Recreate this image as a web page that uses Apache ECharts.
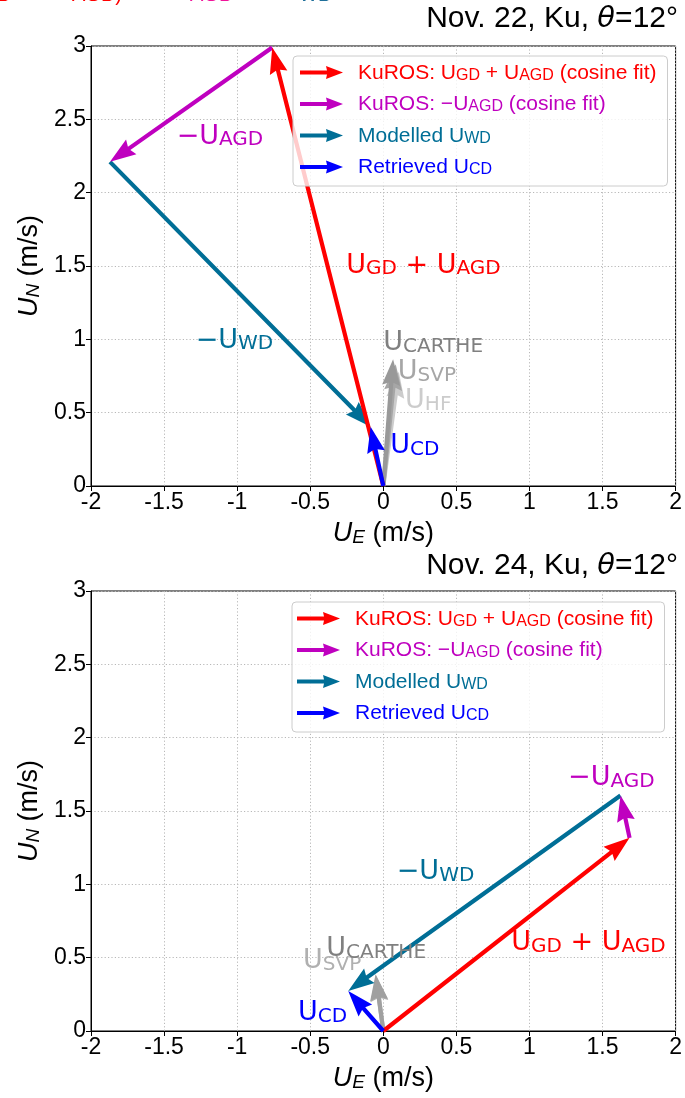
<!DOCTYPE html>
<html><head><meta charset="utf-8">
<script src="https://cdn.jsdelivr.net/npm/echarts@6/dist/echarts.min.js"></script>
<style>html,body{margin:0;padding:0;background:#fff}#c{width:685px;height:1098px}</style>
</head><body><div id="c"></div>
<script>
// ---------------- data (vectors [x0, y0, x1, y1] in m/s) ----------------
const xTickValues = [-2, -1.5, -1, -0.5, 0, 0.5, 1, 1.5, 2];
const yTickValues = [0, 0.5, 1, 1.5, 2, 2.5, 3];

// Nov. 22
const nov22_GDplusAGD = [0, 0, -0.76, 2.99];
const nov22_minusAGD  = [-0.76, 2.99, -1.87, 2.21];
const nov22_minusWD   = [-1.87, 2.21, -0.087, 0.404];
const nov22_CD        = [0, 0, -0.087, 0.404];
const nov22_CARTHE    = [0, 0, 0.067, 0.864];
const nov22_SVP       = [0, 0, 0.085, 0.83];
const nov22_HF        = [0, 0, 0.106, 0.779];

// Nov. 24
const nov24_GDplusAGD = [0, 0, 1.685, 1.317];
const nov24_minusAGD  = [1.685, 1.317, 1.623, 1.606];
const nov24_minusWD   = [1.623, 1.606, -0.240, 0.273];
const nov24_CD        = [0, 0, -0.240, 0.273];
const nov24_CARTHE    = [0, 0, -0.053, 0.387];
const nov24_SVP       = [0, 0, -0.050, 0.380];

const titles = ['Nov. 22', 'Nov. 24'];
const legendNames = ['KuROS: U_GD + U_AGD (cosine fit)', 'KuROS: -U_AGD (cosine fit)', 'Modelled U_WD', 'Retrieved U_CD'];

// ---------------- styles ----------------
const C = { r: '#ff0000', m: '#bf00bf', t: '#006e96', b: '#0000ff', g1: '#808080', g2: '#a6a6a6', g3: '#cccccc', g2b: '#b0b0b0' };
const SANS = 'Liberation Sans, Arial, sans-serif';
const DJ = 'DejaVu Sans, sans-serif';

// layout of annotation anchors (data coordinates of the label's left/bottom)
const annot22 = [
  { x: -1.414, y: 2.29, c: 'm', t: ['−U', 'AGD'] },
  { x: -0.253, y: 1.41, c: 'r', t: ['U', 'GD', ' + U', 'AGD'] },
  { x: -1.284, y: 0.90, c: 't', t: ['−U', 'WD'] },
  { x: 0.000, y: 0.88, c: 'g1', t: ['U', 'CARTHE'] },
  { x: 0.099, y: 0.685, c: 'g2', t: ['U', 'SVP'] },
  { x: 0.149, y: 0.487, c: 'g3', t: ['U', 'HF'] },
  { x: 0.048, y: 0.18, c: 'b', t: ['U', 'CD'] }
];
const annot24 = [
  { x: 1.264, y: 1.633, c: 'm', t: ['−U', 'AGD'] },
  { x: 0.092, y: 0.99, c: 't', t: ['−U', 'WD'] },
  { x: 0.876, y: 0.506, c: 'r', t: ['U', 'GD', ' + U', 'AGD'] },
  { x: -0.549, y: 0.383, c: 'g2b', t: ['U', 'SVP'] },
  { x: -0.39, y: 0.465, c: 'g1', t: ['U', 'CARTHE'] },
  { x: -0.583, y: 0.031, c: 'b', t: ['U', 'CD'] }
];

const annRich = {};
Object.keys(C).forEach(k => {
  annRich[k + 'm'] = { fontFamily: DJ, fontSize: 27, lineHeight: 28, fill: C[k], color: C[k], verticalAlign: 'bottom' };
  annRich[k + 's'] = { fontFamily: DJ, fontSize: 20, lineHeight: 12, fill: C[k], color: C[k], verticalAlign: 'bottom' };
});
function annText(a) {
  return a.t.map((s, i) => '{' + a.c + (i % 2 ? 's' : 'm') + '|' + s + '}').join('');
}

const SHAFT = 4.2, HEADL = 26, HEADW = 18;
function arrowSeries(name, vec, color, gi) {
  return {
    type: 'custom', name: name, xAxisIndex: gi, yAxisIndex: gi, data: [vec],
    encode: { x: [0, 2], y: [1, 3] }, itemStyle: { color: color }, clip: false, silent: true,
    renderItem: function (params, api) {
      const p0 = api.coord([api.value(0), api.value(1)]);
      const p1 = api.coord([api.value(2), api.value(3)]);
      let dx = p1[0] - p0[0], dy = p1[1] - p0[1];
      const len = Math.sqrt(dx * dx + dy * dy);
      dx /= len; dy /= len;
      const nx = -dy, ny = dx;
      const hl = Math.min(HEADL, len);
      const bx = p1[0] - dx * hl, by = p1[1] - dy * hl;
      const sx = p1[0] - dx * hl * 0.9, sy = p1[1] - dy * hl * 0.9;
      const w = SHAFT / 2, W = HEADW / 2;
      const pts = [
        [p0[0] + nx * w, p0[1] + ny * w],
        [sx + nx * w, sy + ny * w],
        [bx + nx * W, by + ny * W],
        [p1[0], p1[1]],
        [bx - nx * W, by - ny * W],
        [sx - nx * w, sy - ny * w],
        [p0[0] - nx * w, p0[1] - ny * w]
      ];
      return { type: 'polygon', shape: { points: pts }, style: { fill: color } };
    }
  };
}
function labelSeries(list, gi) {
  return {
    type: 'custom', name: 'labels' + gi, xAxisIndex: gi, yAxisIndex: gi,
    data: list.map(a => [a.x, a.y]), encode: { x: 0, y: 1 }, clip: false, silent: true, z: 3,
    renderItem: function (params, api) {
      const a = list[params.dataIndex];
      const p = api.coord([api.value(0), api.value(1)]);
      return { type: 'text', x: p[0], y: p[1], style: { text: annText(a), rich: annRich, fill: C[a.c], align: 'left', verticalAlign: 'bottom' } };
    }
  };
}

// legend
const legRich = { g: { width: 10, fontSize: 21 } };
[['r', C.r], ['m', C.m], ['t', C.t], ['b', C.b]].forEach(([k, col]) => {
  legRich[k + 'a'] = { fontFamily: SANS, fontSize: 21, lineHeight: 22, color: col, verticalAlign: 'bottom' };
  legRich[k + 's'] = { fontFamily: SANS, fontSize: 16, lineHeight: 9, color: col, verticalAlign: 'bottom' };
});
const legText = {};
legText[legendNames[0]] = '{g| }{ra|KuROS: U}{rs|GD}{ra| + U}{rs|AGD}{ra| (cosine fit)}';
legText[legendNames[1]] = '{g| }{ma|KuROS: −U}{ms|AGD}{ma| (cosine fit)}';
legText[legendNames[2]] = '{g| }{ta|Modelled U}{ts|WD}';
legText[legendNames[3]] = '{g| }{ba|Retrieved U}{bs|CD}';
const legColors = [C.r, C.m, C.t, C.b];
const ICON = 'path://M0,4.5 L27,4.5 L26,0 L43,6.5 L26,13 L27,8.5 L0,8.5 Z';
function makeLegend(left, top, padLeft) {
  return {
    orient: 'vertical', left: left, top: top, padding: [6, 11, 8, padLeft], itemGap: 10,
    itemWidth: 43, itemHeight: 13, backgroundColor: 'rgba(255,255,255,0.8)',
    borderColor: '#cccccc', borderWidth: 1, borderRadius: 4, selectedMode: false, align: 'left',
    data: legendNames.map((n, i) => ({ name: n, icon: ICON, itemStyle: { color: legColors[i] } })),
    formatter: n => legText[n], textStyle: { rich: legRich }
  };
}

const gridTops = [46, 591];
const GH = 440, GL = 91, GW = 587;
const xAxes = [], yAxes = [], grids = [];
const nameRich = {
  i: { fontFamily: SANS, fontStyle: 'italic', fontSize: 27, lineHeight: 28, verticalAlign: 'bottom', color: '#000' },
  is: { fontFamily: SANS, fontStyle: 'italic', fontSize: 19, lineHeight: 12, verticalAlign: 'bottom', color: '#000' },
  a: { fontFamily: SANS, fontSize: 27, lineHeight: 28, verticalAlign: 'bottom', color: '#000' }
};
for (let g = 0; g < 2; g++) {
  grids.push({ left: GL, top: gridTops[g], width: GW, height: GH, show: true, borderColor: '#000', borderWidth: 1, backgroundColor: 'transparent' });
  const common = {
    gridIndex: g, type: 'value',
    axisLine: { show: true, onZero: false, lineStyle: { color: '#000', width: 1 } },
    axisTick: { show: true, length: 5, lineStyle: { color: '#000' } },
    axisLabel: { color: '#000', fontSize: 23, fontFamily: SANS, margin: 5 },
    splitLine: { show: true, lineStyle: { color: '#b8b8b8', type: [1.2, 2.2], width: 1 } },
    nameLocation: 'middle', nameTextStyle: { rich: nameRich }
  };
  xAxes.push(Object.assign({}, common, {
    min: xTickValues[0], max: xTickValues[xTickValues.length - 1], interval: xTickValues[1] - xTickValues[0],
    name: '{i|U}{is|E}{a| (m/s)}', nameGap: 33
  }));
  yAxes.push(Object.assign({}, common, {
    min: yTickValues[0], max: yTickValues[yTickValues.length - 1], interval: yTickValues[1] - yTickValues[0],
    name: '{i|U}{is|N}{a| (m/s)}', nameGap: 48, nameRotate: 90
  }));
}

const titleRich = {
  a: { fontFamily: SANS, fontSize: 30, fontWeight: 'normal', color: '#000' },
  t: { fontFamily: DJ, fontStyle: 'italic', fontWeight: 'normal', fontSize: 29, color: '#000' }
};
const series = [
  arrowSeries('HF22', nov22_HF, C.g3, 0),
  arrowSeries('SVP22', nov22_SVP, C.g2, 0),
  arrowSeries('CARTHE22', nov22_CARTHE, '#999999', 0),
  arrowSeries(legendNames[2], nov22_minusWD, C.t, 0),
  arrowSeries(legendNames[1], nov22_minusAGD, C.m, 0),
  arrowSeries(legendNames[0], nov22_GDplusAGD, C.r, 0),
  arrowSeries(legendNames[3], nov22_CD, C.b, 0),
  labelSeries(annot22, 0),
  arrowSeries('SVP24', nov24_SVP, '#b0b0b0', 1),
  arrowSeries('CARTHE24', nov24_CARTHE, '#a0a0a0', 1),
  arrowSeries(legendNames[2], nov24_minusWD, C.t, 1),
  arrowSeries(legendNames[1], nov24_minusAGD, C.m, 1),
  arrowSeries(legendNames[0], nov24_GDplusAGD, C.r, 1),
  arrowSeries(legendNames[3], nov24_CD, C.b, 1),
  labelSeries(annot24, 1)
];

const chart = echarts.init(document.getElementById('c'), null, { renderer: 'canvas' });
chart.setOption({
  animation: false,
  backgroundColor: '#ffffff',
  title: [
    { text: '{a|' + titles[0] + ', Ku, }{t|θ}{a|=12°}', right: 7, top: 4, padding: 0, textStyle: { fontWeight: 'normal', rich: titleRich } },
    { text: '{a|' + titles[1] + ', Ku, }{t|θ}{a|=12°}', right: 7, top: 551, padding: 0, textStyle: { fontWeight: 'normal', rich: titleRich } }
  ],
  grid: grids, xAxis: xAxes, yAxis: yAxes,
  legend: [makeLegend(293, 56, 7), makeLegend(292, 602, 5)],
  graphic: [
    { type: 'text', x: -3, y: 5, style: { text: 'D', font: '20px Liberation Sans', fill: C.r, verticalAlign: 'bottom' } },
    { type: 'text', x: 72, y: 5, style: { text: 'AGD)', font: '20px Liberation Sans', fill: C.r, verticalAlign: 'bottom' } },
    { type: 'text', x: 190, y: 5, style: { text: 'AGD', font: '20px Liberation Sans', fill: '#f0149a', verticalAlign: 'bottom' } },
    { type: 'text', x: 299, y: 5, style: { text: 'WD', font: '20px Liberation Sans', fill: '#1f6f9a', verticalAlign: 'bottom' } }
  ],
  series: series
});
</script></body></html>
